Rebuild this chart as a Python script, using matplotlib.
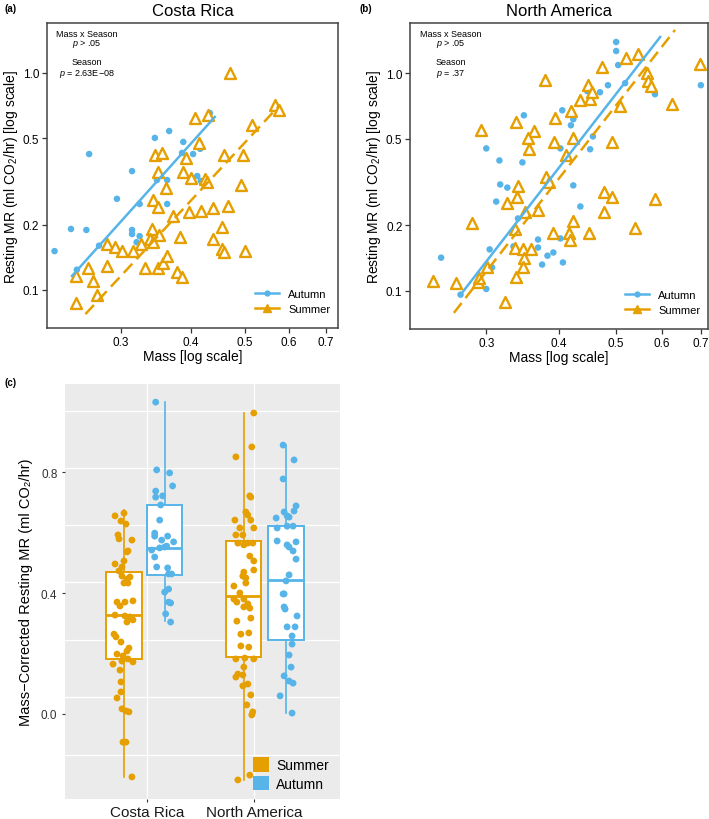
import numpy as np
import matplotlib
matplotlib.use("Agg")
import matplotlib.pyplot as plt
from matplotlib.lines import Line2D
from matplotlib.patches import Patch
from matplotlib.ticker import FixedLocator, NullLocator, FormatStrFormatter

plt.rcParams["font.family"] = ["Liberation Sans", "DejaVu Sans"]
plt.rcParams["mathtext.fontset"] = "custom"
plt.rcParams["mathtext.rm"] = "Liberation Sans"
plt.rcParams["mathtext.it"] = "Liberation Sans:italic"

BLUE = "#56B4E9"
ORANGE = "#E69F00"

# ---- (a) Costa Rica: mass (g) vs resting MR, log-log
cr_aut_mass = [0.228, 0.244, 0.250, 0.260, 0.263, 0.271, 0.274, 0.295, 0.314, 0.314,
               0.314, 0.320, 0.324, 0.324, 0.345, 0.348, 0.363, 0.363, 0.366, 0.372,
               0.386, 0.388, 0.404, 0.411, 0.416, 0.417, 0.433]
cr_aut_mr = [0.151, 0.191, 0.124, 0.189, 0.423, 0.092, 0.160, 0.263, 0.353, 0.189,
             0.181, 0.166, 0.249, 0.177, 0.502, 0.321, 0.321, 0.249, 0.540, 0.210,
             0.428, 0.481, 0.423, 0.335, 0.447, 0.318, 0.654]
cr_sum_mass = [0.470, 0.566, 0.576, 0.515, 0.407, 0.430, 0.414, 0.345, 0.355, 0.392,
               0.459, 0.496, 0.350, 0.388, 0.400, 0.424, 0.428, 0.492, 0.361, 0.342,
               0.350, 0.397, 0.417, 0.439, 0.467, 0.372, 0.455, 0.341, 0.351, 0.338,
               0.342, 0.439, 0.383, 0.283, 0.293, 0.301, 0.315, 0.326, 0.455, 0.459,
               0.500, 0.283, 0.262, 0.267, 0.272, 0.249, 0.249, 0.331, 0.350, 0.357,
               0.363, 0.378, 0.386]
cr_sum_mr = [1.000, 0.712, 0.675, 0.576, 0.620, 0.640, 0.476, 0.419, 0.428, 0.406,
             0.419, 0.419, 0.350, 0.350, 0.328, 0.325, 0.315, 0.305, 0.295, 0.260,
             0.241, 0.229, 0.231, 0.239, 0.244, 0.219, 0.195, 0.191, 0.179, 0.172,
             0.166, 0.172, 0.175, 0.163, 0.158, 0.151, 0.151, 0.163, 0.155, 0.150,
             0.151, 0.129, 0.126, 0.110, 0.095, 0.116, 0.087, 0.126, 0.126, 0.133,
             0.143, 0.121, 0.115]
# fitted lines (mass range, MR range)
cr_fit_aut = ([0.245, 0.442], [0.116, 0.627])
cr_fit_sum = ([0.259, 0.576], [0.0774, 0.705])

# ---- (b) North America
na_aut_mass = [0.251, 0.271, 0.300, 0.304, 0.307, 0.300, 0.316, 0.317, 0.326, 0.312,
               0.346, 0.348, 0.340, 0.334, 0.368, 0.368, 0.382, 0.391, 0.374, 0.406,
               0.402, 0.423, 0.435, 0.402, 0.452, 0.405, 0.423, 0.419, 0.457, 0.447,
               0.470, 0.485, 0.519, 0.505, 0.501, 0.501, 0.584, 0.700]
na_aut_mr = [0.142, 0.096, 0.102, 0.155, 0.128, 0.451, 0.397, 0.308, 0.298, 0.257,
             0.389, 0.640, 0.215, 0.160, 0.172, 0.158, 0.145, 0.150, 0.132, 0.135,
             0.174, 0.305, 0.244, 0.451, 0.447, 0.675, 0.614, 0.576, 0.512, 0.826,
             0.817, 0.880, 0.899, 1.089, 1.390, 1.263, 0.800, 0.880]
na_sum_mass = [0.294, 0.338, 0.362, 0.354, 0.355, 0.379, 0.394, 0.392, 0.419, 0.423,
               0.411, 0.435, 0.449, 0.452, 0.456, 0.474, 0.493, 0.509, 0.521, 0.546,
               0.566, 0.568, 0.575, 0.625, 0.698, 0.340, 0.380, 0.385, 0.478, 0.493,
               0.584, 0.243, 0.266, 0.284, 0.290, 0.291, 0.301, 0.323, 0.325, 0.339,
               0.336, 0.336, 0.347, 0.358, 0.348, 0.347, 0.338, 0.368, 0.350, 0.423,
               0.391, 0.416, 0.418, 0.450, 0.478, 0.540]
na_sum_mr = [0.546, 0.595, 0.540, 0.502, 0.447, 0.928, 0.620, 0.481, 0.668, 0.502,
             0.419, 0.751, 0.880, 0.759, 0.817, 1.066, 0.481, 0.705, 1.172, 1.223,
             1.000, 0.919, 0.871, 0.720, 1.100, 0.302, 0.332, 0.315, 0.283, 0.271,
             0.265, 0.111, 0.109, 0.204, 0.110, 0.114, 0.128, 0.089, 0.254, 0.271,
             0.193, 0.158, 0.155, 0.156, 0.142, 0.129, 0.116, 0.236, 0.229, 0.210,
             0.185, 0.185, 0.172, 0.185, 0.229, 0.195]
na_fit_aut = ([0.271, 0.596], [0.0959, 1.465])
na_fit_sum = ([0.264, 0.632], [0.0792, 1.578])

# ---- (c) mass-corrected resting MR
cr_sum_mcr = [0.664, 0.655, 0.638, 0.628, 0.592, 0.579, 0.575, 0.539, 0.536, 0.506,
              0.496, 0.486, 0.473, 0.456, 0.453, 0.446, 0.433, 0.433, 0.374, 0.370,
              0.370, 0.357, 0.327, 0.324, 0.321, 0.311, 0.304, 0.264, 0.255, 0.238,
              0.218, 0.208, 0.198, 0.192, 0.182, 0.175, 0.172, 0.165, 0.145, 0.106,
              0.073, 0.053, 0.017, 0.010, 0.007, -0.093, -0.093, -0.208]
cr_aut_mcr = [1.031, 0.807, 0.797, 0.754, 0.737, 0.721, 0.717, 0.691, 0.641, 0.598,
              0.588, 0.588, 0.575, 0.569, 0.555, 0.552, 0.549, 0.542, 0.519, 0.486,
              0.483, 0.463, 0.463, 0.413, 0.403, 0.370, 0.367, 0.331, 0.304]
na_sum_mcr = [0.995, 0.883, 0.850, 0.721, 0.717, 0.668, 0.658, 0.641, 0.641, 0.615,
              0.615, 0.592, 0.592, 0.565, 0.565, 0.565, 0.559, 0.522, 0.506, 0.476,
              0.469, 0.456, 0.450, 0.433, 0.423, 0.400, 0.380, 0.380, 0.370, 0.364,
              0.354, 0.350, 0.317, 0.307, 0.268, 0.264, 0.225, 0.221, 0.185, 0.182,
              0.182, 0.155, 0.132, 0.129, 0.122, 0.099, 0.093, 0.063, 0.030, 0.007,
              -0.003, -0.202, -0.218]
na_aut_mcr = [0.889, 0.840, 0.777, 0.688, 0.671, 0.668, 0.655, 0.651, 0.648, 0.621,
              0.621, 0.615, 0.572, 0.569, 0.559, 0.552, 0.539, 0.512, 0.460, 0.440,
              0.397, 0.397, 0.354, 0.347, 0.324, 0.288, 0.288, 0.258, 0.231, 0.195,
              0.155, 0.126, 0.109, 0.102, 0.060, 0.003]

# horizontal jitter of the points (hundredths of a category step)
cr_sum_jit = [0, -9, -3, 2, -6, -5, 8, 4, 3, 0, -9, -2, -5, -2, 6, 3, 0, 4, 9, -7,
              1, -4, -9, 1, 6, 9, 3, -10, -8, -3, 5, 3, -7, -1, 4, -2, 9, -11, -4, -3,
              -3, -7, -2, 2, 5, -1, 2, 8]
cr_aut_jit = [-9, -8, 5, 8, -9, -2, -9, -4, -5, -10, -10, 3, -3, 9, 2, 0, -5, -13, -10, -8,
              3, 4, 7, 4, 0, 4, 6, 1, 6]
na_sum_jit = [10, 8, -8, 6, 7, 2, 4, -9, 7, -4, 10, -8, -1, -6, 4, 9, 0, 6, 10, 10,
              0, -1, 2, 2, -10, -4, -10, 0, -7, 4, 0, 6, 7, -7, 5, -3, -3, 5, 1, -8,
              10, 0, -6, -1, -8, 4, -1, 7, 3, 9, 8, 6, -6]
na_aut_jit = [-3, 8, -3, 10, 8, -2, 1, 3, -10, 1, 7, -9, -9, 10, 1, 3, 7, 10, 3, 0,
              -3, -2, -2, -1, 11, 1, 9, 6, 6, 3, 5, -2, 3, 7, -6, 6]

# box summaries: q1, median, q3, whisker low, whisker high
box_q1 = [0.182, 0.460, 0.188, 0.245]
box_med = [0.327, 0.549, 0.390, 0.443]
box_q3 = [0.469, 0.691, 0.572, 0.621]
box_lo = [-0.208, 0.307, -0.218, 0.003]
box_hi = [0.674, 1.031, 0.995, 0.889]

groups = ["Costa Rica", "North America"]


fig = plt.figure(figsize=(7.09, 8.2), dpi=100)
ax_a = fig.add_axes([0.0663, 0.5988, 0.4104, 0.3720])
ax_b = fig.add_axes([0.5783, 0.5976, 0.4203, 0.3732])
ax_c = fig.add_axes([0.0917, 0.0244, 0.3879, 0.5061])


def scatter_panel(ax, am, ar, sm, sr, fit_a, fit_s, title, season_p, xlim):
    ax.scatter(am, ar, s=22, color=BLUE, edgecolors="none", zorder=2)
    ax.scatter(sm, sr, s=62, marker="^", facecolors="white", edgecolors=ORANGE,
               linewidths=1.7, zorder=3)
    ax.plot(fit_a[0], fit_a[1], color=BLUE, lw=1.8, zorder=4)
    ax.plot(fit_s[0], fit_s[1], color=ORANGE, lw=1.8, dashes=(5, 2.5), zorder=4)
    ax.set_xscale("log")
    ax.set_yscale("log")
    ax.set_xlim(*xlim)
    ax.set_ylim(0.0668, 1.70)
    ax.xaxis.set_major_locator(FixedLocator([0.3, 0.4, 0.5, 0.6, 0.7]))
    ax.yaxis.set_major_locator(FixedLocator([0.1, 0.2, 0.5, 1.0]))
    ax.xaxis.set_minor_locator(NullLocator())
    ax.yaxis.set_minor_locator(NullLocator())
    ax.xaxis.set_major_formatter(FormatStrFormatter("%.1f"))
    ax.yaxis.set_major_formatter(FormatStrFormatter("%.1f"))
    ax.tick_params(labelsize=8.5, length=3.5, width=0.9, color="#333333", pad=2)
    for sp in ax.spines.values():
        sp.set_color("#444444")
        sp.set_linewidth(1.1)
    ax.set_xlabel("Mass [log scale]", fontsize=10, labelpad=1)
    ax.set_ylabel(r"Resting MR (ml CO$_2$/hr) [log scale]", fontsize=10, labelpad=2)
    ax.set_title(title, fontsize=12, pad=6)
    kw = dict(transform=ax.transAxes, ha="center", va="center", fontsize=6.5)
    ax.text(0.137, 0.964, "Mass x Season", **kw)
    ax.text(0.137, 0.934, r"$p$ > .05", **kw)
    ax.text(0.137, 0.875, "Season", **kw)
    ax.text(0.137, 0.836, r"$p$ = " + season_p, **kw)
    handles = [
        Line2D([0], [0], color=BLUE, lw=1.8, marker="o", markersize=3.5),
        Line2D([0], [0], color=ORANGE, lw=1.8, marker="^", markersize=6),
    ]
    ax.legend(handles, ["Autumn", "Summer"], loc="lower right", frameon=False,
              fontsize=8, handlelength=2.2, labelspacing=0.45,
              bbox_to_anchor=(1.0, 0.02), borderaxespad=0.3)


scatter_panel(ax_a, cr_aut_mass, cr_aut_mr, cr_sum_mass, cr_sum_mr,
              cr_fit_aut, cr_fit_sum, "Costa Rica", "2.63E\u221208", (0.221, 0.735))
scatter_panel(ax_b, na_aut_mass, na_aut_mr, na_sum_mass, na_sum_mr,
              na_fit_aut, na_fit_sum, "North America", ".37", (0.222, 0.72))

# ---- (c) boxplots
ax = ax_c
ax.set_facecolor("#EBEBEB")
for sp in ax.spines.values():
    sp.set_visible(False)

box_pos = [0.785, 1.165, 1.905, 2.300]
box_col = [ORANGE, BLUE, ORANGE, BLUE]
stats = []
for i in range(4):
    stats.append(dict(q1=box_q1[i], med=box_med[i], q3=box_q3[i],
                      whislo=box_lo[i], whishi=box_hi[i], fliers=[]))
bp = ax.bxp(stats, positions=box_pos, widths=0.33, patch_artist=True,
            showcaps=False, showfliers=False, manage_ticks=False)
for i, c in enumerate(box_col):
    bp["boxes"][i].set(facecolor="white", edgecolor=c, linewidth=1.4, zorder=2)
    bp["medians"][i].set(color=c, linewidth=2.0, zorder=3)
    bp["whiskers"][2 * i].set(color=c, linewidth=1.2, zorder=1.5)
    bp["whiskers"][2 * i + 1].set(color=c, linewidth=1.2, zorder=1.5)

pts = [(cr_sum_mcr, cr_sum_jit), (cr_aut_mcr, cr_aut_jit),
       (na_sum_mcr, na_sum_jit), (na_aut_mcr, na_aut_jit)]
for (vals, jit), pos, c in zip(pts, box_pos, box_col):
    xs = pos + np.array(jit) * 0.0093
    ax.scatter(xs, vals, s=24, color=c, edgecolors="none", zorder=4)

ax.set_xlim(0.234, 2.804)
ax.set_ylim(-0.281, 1.091)
ax.set_xticks([1, 2])
ax.set_xticklabels(groups, fontsize=11, color="#1a1a1a")
ax.set_yticks([0.0, 0.4, 0.8])
ax.yaxis.set_major_formatter(FormatStrFormatter("%.1f"))
grid_y = [1.002, 0.813, 0.625, 0.436, 0.245, 0.056, -0.136]
ax.yaxis.set_minor_locator(FixedLocator(grid_y))
ax.tick_params(axis="y", which="minor", length=0)
ax.tick_params(axis="both", which="major", labelsize=8.5, length=2.5,
               color="#333333", labelcolor="#333333", pad=3)
ax.tick_params(axis="x", labelsize=11, labelcolor="#1a1a1a", pad=2)
ax.grid(True, axis="y", which="minor", color="white", lw=0.9)
ax.grid(True, axis="x", which="major", color="white", lw=0.9)
ax.set_axisbelow(True)
ax.set_ylabel("Mass\u2212Corrected Resting MR (ml CO\u2082/hr)", fontsize=10.5, labelpad=6)
leg_handles = [Patch(facecolor=ORANGE, edgecolor="none"),
               Patch(facecolor=BLUE, edgecolor="none")]
ax.legend(leg_handles, ["Summer", "Autumn"], loc="lower right", frameon=False,
          fontsize=10, handlelength=1.2, handleheight=1.25, labelspacing=0.25,
          handletextpad=0.5, borderaxespad=0.2, bbox_to_anchor=(0.99, 0.0))

fig.text(0.007, 0.989, "(a)", fontsize=7, fontweight="bold", va="center")
fig.text(0.507, 0.989, "(b)", fontsize=7, fontweight="bold", va="center")
fig.text(0.007, 0.533, "(c)", fontsize=7, fontweight="bold", va="center")

fig.savefig("out.png", dpi=100)
